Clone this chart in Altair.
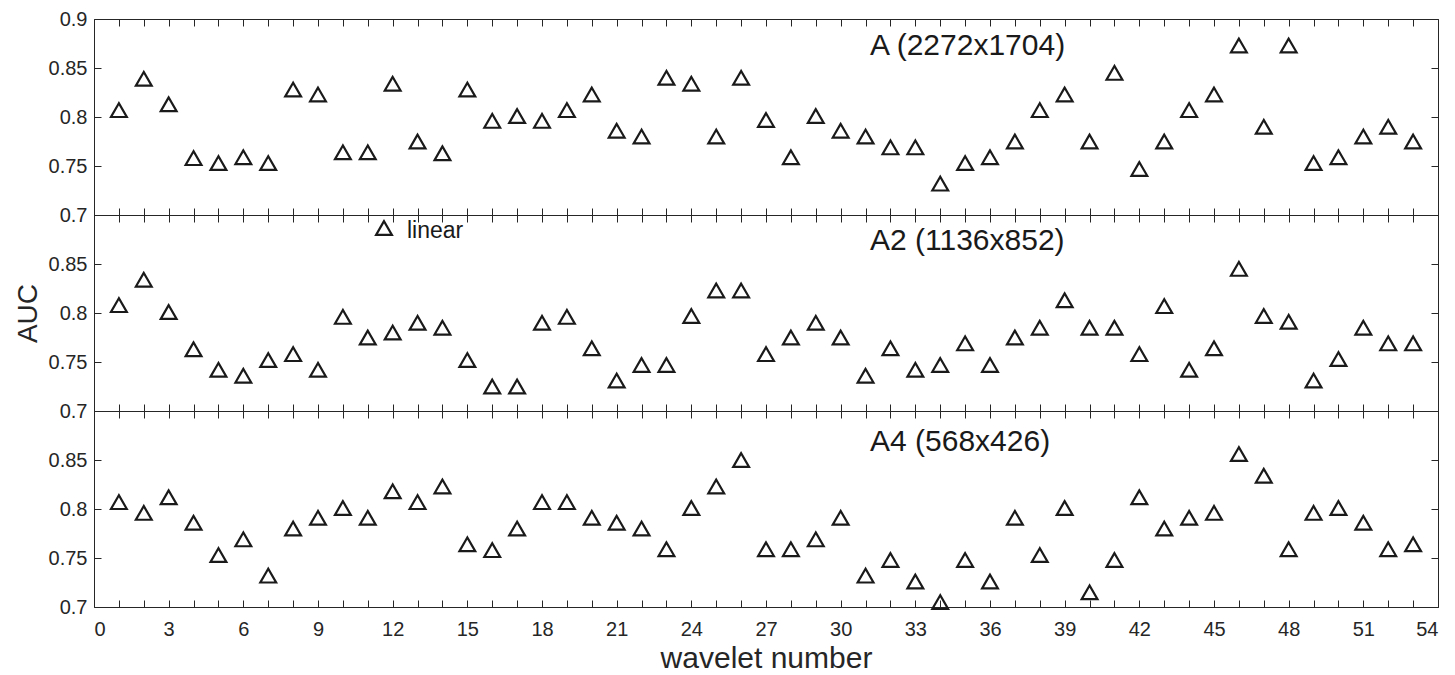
import altair as alt
import pandas as pd

FONT = "Liberation Sans"
INK = "#1a1a1a"
AXC = "#262626"

wavelet = list(range(1, 54))
auc_A = [0.807, 0.839, 0.813, 0.758, 0.753, 0.759, 0.753, 0.828, 0.823, 0.764,
         0.764, 0.834, 0.775, 0.763, 0.828, 0.796, 0.801, 0.796, 0.807, 0.823,
         0.786, 0.780, 0.840, 0.834, 0.780, 0.840, 0.797, 0.759, 0.801, 0.786,
         0.780, 0.769, 0.769, 0.732, 0.753, 0.759, 0.775, 0.807, 0.823, 0.775,
         0.845, 0.747, 0.775, 0.807, 0.823, 0.873, 0.790, 0.873, 0.753, 0.759,
         0.780, 0.790, 0.775]
auc_A2 = [0.808, 0.834, 0.801, 0.763, 0.742, 0.736, 0.752, 0.758, 0.742, 0.796,
          0.775, 0.780, 0.790, 0.785, 0.752, 0.725, 0.725, 0.790, 0.796, 0.764,
          0.731, 0.747, 0.747, 0.797, 0.823, 0.823, 0.758, 0.775, 0.790, 0.775,
          0.736, 0.764, 0.742, 0.747, 0.769, 0.747, 0.775, 0.785, 0.813, 0.785,
          0.785, 0.758, 0.807, 0.742, 0.764, 0.845, 0.797, 0.791, 0.731, 0.753,
          0.785, 0.769, 0.769]
auc_A4 = [0.807, 0.796, 0.812, 0.786, 0.753, 0.769, 0.732, 0.780, 0.791, 0.801,
          0.791, 0.818, 0.807, 0.823, 0.764, 0.758, 0.780, 0.807, 0.807, 0.791,
          0.786, 0.780, 0.759, 0.801, 0.823, 0.850, 0.759, 0.759, 0.769, 0.791,
          0.732, 0.748, 0.726, 0.705, 0.748, 0.726, 0.791, 0.753, 0.801, 0.715,
          0.748, 0.812, 0.780, 0.791, 0.796, 0.856, 0.834, 0.759, 0.796, 0.801,
          0.786, 0.759, 0.764]

x_ticks = list(range(0, 55))
y_ticks_first = [0.7, 0.75, 0.8, 0.85, 0.9]
y_ticks_other = [0.7, 0.75, 0.8, 0.85]
panel_labels = ["A (2272x1704)", "A2 (1136x852)", "A4 (568x426)"]
legend_label = ["linear"]

W, H = 1344, 196
xs = alt.Scale(domain=[0, 54], nice=False, zero=False)
ys = alt.Scale(domain=[0.7, 0.9], nice=False, zero=False)
MSIZE = 250
MSTROKE = 2.2


def panel(values, label, label_y, yvals, bottom, ytitle, legend=False):
    df = pd.DataFrame({"wavelet": wavelet, "auc": values})
    base = alt.Chart(df)
    if bottom:
        x_axis = alt.Axis(values=x_ticks, orient="bottom", labels=True,
                          labelExpr="datum.value % 3 === 0 ? datum.label : ''",
                          labelPadding=12, titlePadding=4, titleFontSize=30)
        x_title = "wavelet number"
    else:
        x_axis = alt.Axis(values=x_ticks, orient="bottom", labels=False, labelPadding=0)
        x_title = None
    y_axis = alt.Axis(values=yvals, orient="left", format=".2~f",
                      labelPadding=7, titlePadding=6)
    pts = base.mark_point(shape="triangle-up", size=MSIZE, filled=False,
                          stroke=INK, strokeWidth=MSTROKE, opacity=1).encode(
        x=alt.X("wavelet:Q", scale=xs, axis=x_axis, title=x_title),
        y=alt.Y("auc:Q", scale=ys, axis=y_axis, title=ytitle if ytitle else None),
    )
    frame = base.mark_point(opacity=0).encode(
        x=alt.X("wavelet:Q", scale=xs,
                axis=alt.Axis(values=x_ticks, orient="top", labels=False,
                              labelPadding=0), title=None),
        y=alt.Y("auc:Q", scale=ys,
                axis=alt.Axis(values=yvals, orient="right", labels=False,
                              labelPadding=0), title=None),
    )
    txt = alt.Chart(pd.DataFrame({"label": [label]})).mark_text(
        align="left", baseline="middle", fontSize=30, font=FONT, color=INK
    ).encode(x=alt.value(776), y=alt.value(label_y), text="label:N")
    layers = [pts, frame, txt]
    if legend:
        ldf = pd.DataFrame({"label": legend_label})
        lpt = alt.Chart(ldf).mark_point(shape="triangle-up", size=MSIZE, filled=False,
                                        stroke=INK, strokeWidth=MSTROKE, opacity=1).encode(
            x=alt.value(290), y=alt.value(13))
        ltx = alt.Chart(ldf).mark_text(align="left", baseline="middle", fontSize=23,
                                       font=FONT, color=INK).encode(
            x=alt.value(313), y=alt.value(16), text="label:N")
        layers += [lpt, ltx]
    return alt.layer(*layers).resolve_axis(x="independent", y="independent").properties(
        width=W, height=H)


p1 = panel(auc_A, panel_labels[0], 27, y_ticks_first, False, None)
p2 = panel(auc_A2, panel_labels[1], 26, y_ticks_other, False, "AUC", legend=True)
p3 = panel(auc_A4, panel_labels[2], 31, y_ticks_other, True, None)

chart = alt.vconcat(p1, p2, p3, spacing=0, bounds="flush").properties(
    padding={"left": 5, "top": 0, "right": 5, "bottom": 0},
    background="white",
).configure_view(
    stroke=AXC, strokeWidth=1
).configure_axis(
    grid=False, domain=False, tickSize=7, offset=-7, tickColor=AXC, tickWidth=1,
    labelFont=FONT, labelFontSize=20, labelColor=AXC,
    titleFont=FONT, titleFontSize=28, titleFontWeight="normal", titleColor=AXC,
)

chart.save("out.html", embed_options={"renderer": "svg", "actions": False})
